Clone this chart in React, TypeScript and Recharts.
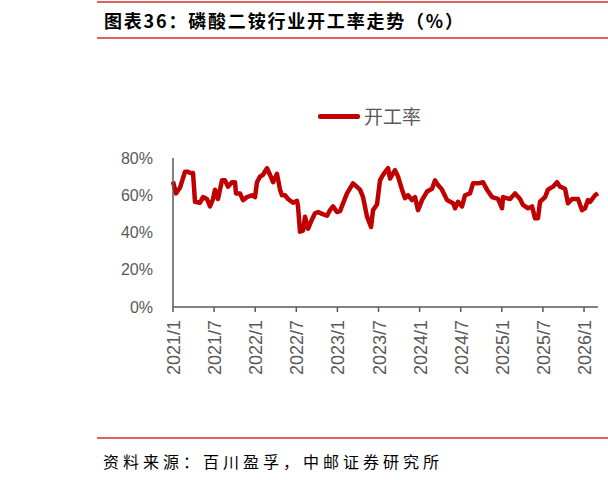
import React from 'react';
import { LineChart, Line, XAxis, YAxis } from 'recharts';

// time in months since 2021/1
const monthIndex = [
  0, 0.44, 1.02, 1.75, 2.19, 2.48, 2.92, 3.21, 3.94, 4.38, 4.96, 5.4, 5.84, 6.13, 6.57, 7.15, 7.59, 8.03, 8.61, 9.05,
  9.2, 9.78, 10.22, 10.8, 11.53, 11.97, 12.26, 12.7, 13.14, 13.72, 14.16, 14.6, 15.18, 15.62, 15.91, 16.35, 16.79,
  17.52, 18.1, 18.25, 18.54, 18.98, 19.27, 19.71, 20.29, 20.73, 21.17, 21.75, 22.48, 22.92, 23.36, 23.94, 24.38,
  25.4, 26.28, 27.3, 27.74, 28.32, 28.91, 29.2, 29.78, 30.22, 30.66, 31.39, 31.68, 32.41, 32.85, 33.43, 33.87,
  34.31, 34.89, 35.33, 35.77, 36.35, 37.08, 37.81, 38.25, 38.69, 39.27, 40.0, 40.88, 41.17, 41.61, 42.19, 42.63,
  43.36, 43.8, 44.53, 45.26, 45.84, 46.57, 47.45, 48.03, 48.18, 49.2, 49.93, 50.66, 51.09, 51.82, 52.41, 52.85,
  53.28, 53.58, 54.31, 54.74, 55.47, 56.06, 56.5, 57.23, 57.66, 58.25, 59.12, 59.71, 60.15, 60.58, 60.88, 61.61,
  62.04,
];

const rate = [
  67.3, 61, 64, 72.6, 72.6, 72, 72, 56.5, 56, 59, 58, 54, 58, 63, 58, 68, 68, 64.6, 67, 67,
  61, 61, 57.4, 59, 60, 59, 67, 70, 71, 74.5, 71, 67, 71.5, 63, 60, 60, 58,
  56, 57, 54, 40.4, 41, 48.5, 42, 47, 50.3, 51, 50, 49, 52, 54, 51, 51.5,
  61, 66.4, 63, 59, 48.5, 43, 52, 55, 68, 71, 74.5, 69, 73.5, 70, 63, 58.4,
  60, 57.4, 59, 52, 57.4, 62, 63.5, 68, 65.5, 63, 57.4, 55.7, 53, 56.5, 54, 60,
  61, 66.4, 66.4, 67, 63, 59, 58, 53, 59, 58, 61, 58, 54.8, 53, 54, 47.6,
  47.6, 56.5, 59, 63, 64.6, 67, 64.6, 63.5, 55.7, 58, 58, 52, 53, 57.4, 56.5, 60,
  61,
];

const tickMonths = [0, 6, 12, 18, 24, 30, 36, 42, 48, 54, 60];
const tickLabels = ['2021/1', '2021/7', '2022/1', '2022/7', '2023/1', '2023/7', '2024/1', '2024/7', '2025/1', '2025/7', '2026/1'];
const yTicks = [0, 20, 40, 60, 80];

const data = monthIndex.map((t, i) => ({ t, rate: rate[i] }));

const RED = '#C00000';
const GREY = '#595959';

const XTick = (props: any) => {
  const { x, y, payload } = props;
  const idx = tickMonths.indexOf(payload.value);
  return (
    <text
      x={0}
      y={0}
      transform={`translate(${x + 1},${y + 6}) rotate(-90)`}
      textAnchor="end"
      dominantBaseline="central"
      fontSize={18}
      fill={GREY}
      fontFamily="Liberation Sans, Arial, sans-serif"
    >
      {tickLabels[idx]}
    </text>
  );
};

export default function App() {
  return (
    <div style={{ position: 'absolute', left: 0, top: 0, width: 608, height: 480, background: '#fff', overflow: 'hidden' }}>
      <div style={{ position: 'absolute', left: 97, top: 1, width: 511, height: 2, background: '#E06060' }} />
      <div
        style={{
          position: 'absolute',
          left: 104,
          top: 8,
          fontSize: 18,
          fontWeight: 'bold',
          letterSpacing: 1.8,
          fontFamily: '"Noto Sans CJK SC", sans-serif',
          color: '#000',
          whiteSpace: 'nowrap',
          lineHeight: '24px',
        }}
      >
        图表36：磷酸二铵行业开工率走势（%）
      </div>
      <div style={{ position: 'absolute', left: 97, top: 37, width: 511, height: 2, background: '#E06060' }} />

      <div style={{ position: 'absolute', left: 318, top: 104, display: 'flex', alignItems: 'center', whiteSpace: 'nowrap' }}>
        <div style={{ width: 42, height: 5, background: RED, borderRadius: 2 }} />
        <span
          style={{
            marginLeft: 4,
            fontSize: 19,
            color: GREY,
            fontFamily: '"Noto Sans CJK SC", sans-serif',
            lineHeight: '24px',
          }}
        >
          开工率
        </span>
      </div>

      <div style={{ position: 'absolute', left: 0, top: 0 }}>
        <LineChart width={608} height={480} data={data} margin={{ top: 158, right: 10, left: 0, bottom: 0 }}>
          <XAxis
            dataKey="t"
            type="number"
            domain={[0, 62.04]}
            ticks={tickMonths}
            interval={0}
            height={173}
            tick={<XTick />}
            tickSize={5}
            axisLine={{ stroke: GREY, strokeWidth: 1.5 }}
            tickLine={{ stroke: GREY, strokeWidth: 1.5 }}
          />
          <YAxis
            type="number"
            domain={[0, 80]}
            ticks={yTicks}
            interval={0}
            width={173}
            tickFormatter={(v: number) => `${v}%`}
            tickLine={false}
            tickSize={6}
            tickMargin={14}
            axisLine={{ stroke: GREY, strokeWidth: 1.5 }}
            tick={{ fontSize: 16, fill: GREY, fontFamily: 'Liberation Sans, Arial, sans-serif' }}
          />
          <Line
            type="linear"
            dataKey="rate"
            stroke={RED}
            strokeWidth={4.5}
            dot={false}
            isAnimationActive={false}
            strokeLinejoin="round"
          />
        </LineChart>
      </div>

      <div style={{ position: 'absolute', left: 97, top: 437, width: 511, height: 2, background: '#E06060' }} />
      <div
        style={{
          position: 'absolute',
          left: 103,
          top: 450,
          fontSize: 16,
          letterSpacing: 4,
          fontFamily: '"Noto Sans CJK SC", sans-serif',
          color: '#000',
          whiteSpace: 'nowrap',
          lineHeight: '22px',
        }}
      >
        资料来源：百川盈孚，中邮证券研究所
      </div>
    </div>
  );
}
